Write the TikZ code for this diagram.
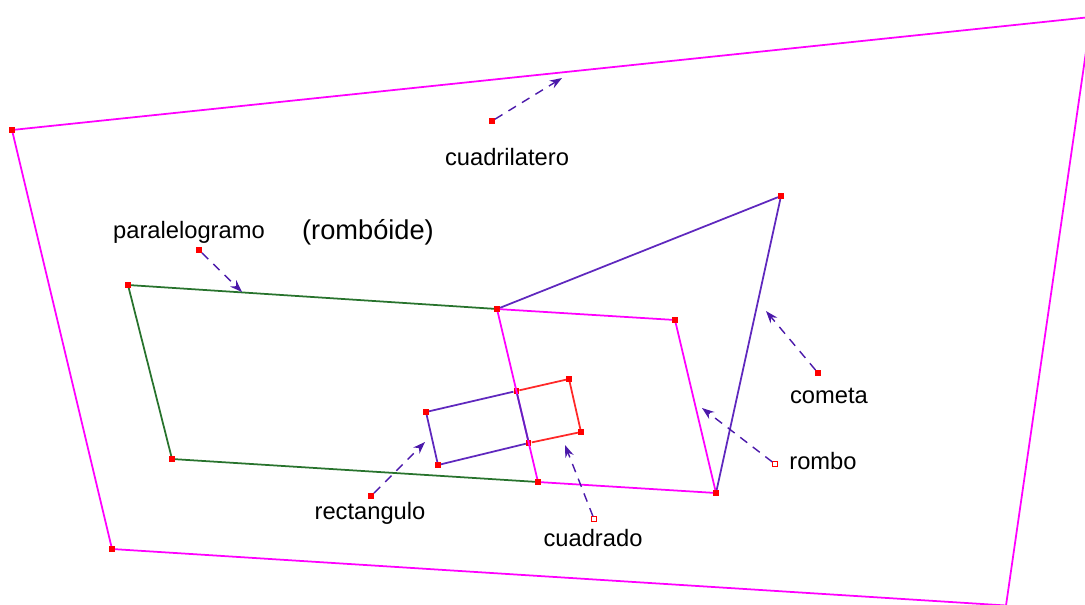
\documentclass[tikz,border=0pt]{standalone}
\usepackage{fontspec}
\setmainfont{Liberation Sans}
\usetikzlibrary{arrows.meta}

\definecolor{magline}{RGB}{255,0,255}
\definecolor{greenline}{RGB}{40,115,45}
\definecolor{purpleline}{RGB}{95,40,190}
\definecolor{redline}{RGB}{255,40,40}
\definecolor{pointerc}{RGB}{75,25,170}

\begin{document}
\begin{tikzpicture}[x=0.02cm, y=-0.02cm,
  vert/.style={rectangle, fill=red, inner sep=0pt, minimum size=3pt},
  hollow/.style={rectangle, draw=red, fill=white, line width=0.5pt, inner sep=0pt, minimum size=2.6pt},
  lbl/.style={font=\fontsize{13.5}{16}\selectfont, inner sep=0pt},
  pointer/.style={color=pointerc, line width=0.8pt, dash pattern=on 5pt off 4pt,
    -{Stealth[length=7pt, width=5pt]}},
  edge/.style={line width=1pt}]

\useasboundingbox (0,0) rectangle (1085,605);
\clip (0,0) rectangle (1085,605);

% cuadrilatero
\node[vert] (q1) at (12,130) {};
\coordinate (q2) at (1091,17);
\coordinate (q3) at (1006,605.5);
\node[vert] (q4) at (112,549) {};

% paralelogramo / rombo / cometa
\node[vert] (p1) at (128,285) {};
\node[vert] (p4) at (172,459) {};
\node[vert] (r1) at (497,309) {};
\node[vert] (r2) at (675,320) {};
\node[vert] (r3) at (716,493) {};
\node[vert] (r4) at (538,482) {};
\node[vert] (k2) at (781,196) {};

% rectangulo / cuadrado
\node[vert] (a1) at (426,412) {};
\node[vert] (a2) at (516.4,391) {};
\node[vert] (a3) at (528.8,443) {};
\node[vert] (a4) at (438,465) {};
\node[vert] (s2) at (569,379) {};
\node[vert] (s3) at (581,432) {};

\draw[edge, magline] (q1) -- (q2) -- (q3) -- (q4) -- (q1);
\draw[edge, greenline] (r1) -- (p1) -- (p4) -- (r4);
\draw[edge, purpleline] (r1) -- (k2) -- (r3);
\draw[edge, magline] (r1) -- (r2) -- (r3) -- (r4) -- (r1);
\draw[edge, purpleline] (a2) -- (a1) -- (a4) -- (a3) -- (a2);
\draw[edge, redline] (a2) -- (s2) -- (s3) -- (a3);

% labels
\node[lbl] (lcuadri) at (507,157) {cuadrilatero};
\node[lbl] (lpara) at (189,232) {paralelogramo};
\node[font=\fontsize{15.5}{18}\selectfont, inner sep=0pt] (lromboide) at (368,232) {(rombóide)};
\node[lbl] (lcometa) at (829,396) {cometa};
\node[lbl] (lrombo) at (823,461) {rombo};
\node[lbl] (lrect) at (370,513) {rectangulo};
\node[lbl] (lcuadrado) at (593,538) {cuadrado};

% pointers
\node[vert] (pcuadri) at (492,121) {};
\node[vert] (ppara) at (199,250) {};
\node[vert] (pcometa) at (818,373) {};
\node[hollow] (prombo) at (775,464) {};
\node[vert] (prect) at (371,496) {};
\node[hollow] (pcuadrado) at (594,519) {};

\coordinate (tcuadri) at (562,78);
\coordinate (tpara) at (242,292);
\coordinate (tcometa) at (766,311);
\coordinate (trombo) at (702,408);
\coordinate (trect) at (425,442);
\coordinate (tcuadrado) at (565,445);

\draw[pointer] (pcuadri) -- (tcuadri);
\draw[pointer] (ppara) -- (tpara);
\draw[pointer] (pcometa) -- (tcometa);
\draw[pointer] (prombo) -- (trombo);
\draw[pointer] (prect) -- (trect);
\draw[pointer] (pcuadrado) -- (tcuadrado);
\end{tikzpicture}
\end{document}
